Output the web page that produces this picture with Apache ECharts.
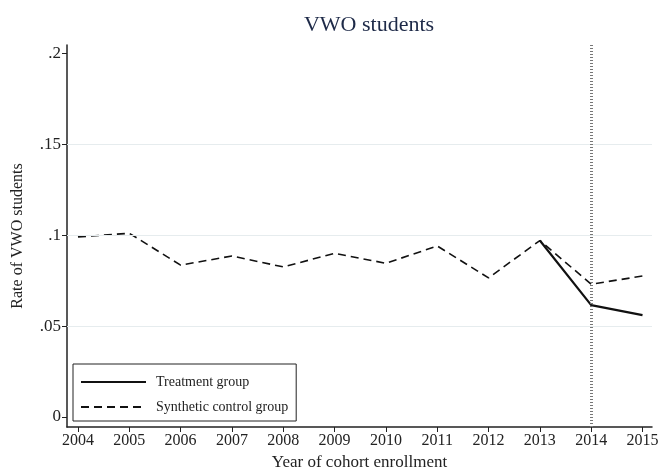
<!DOCTYPE html>
<html>
<head>
<meta charset="utf-8">
<script src="https://cdn.jsdelivr.net/npm/echarts@6/dist/echarts.min.js"></script>
<style>
  html, body { margin: 0; padding: 0; background: #fff; }
  #chart { width: 662px; height: 471px; }
</style>
</head>
<body>
<div id="chart"></div>
<script>
// data
var years = [2004, 2005, 2006, 2007, 2008, 2009, 2010, 2011, 2012, 2013, 2014, 2015];
var syntheticVals = [0.099, 0.101, 0.0835, 0.0885, 0.0825, 0.090, 0.0845, 0.094, 0.0765, 0.097, 0.073, 0.0775];
var treatmentYears = [2013, 2014, 2015];
var treatmentVals = [0.097, 0.0615, 0.056];
var yTicks = [0, 0.05, 0.1, 0.15, 0.2];
var gridVals = [0.05, 0.1, 0.15];
var treatYear = 2014;

var font = '"Liberation Serif", "DejaVu Serif", serif';

function pairs(xs, ys) {
    return xs.map(function (x, i) { return [x, ys[i]]; });
}

function yLabel(v) {
    if (v === 0) return '0';
    return String(Math.round(v * 100) / 100).replace(/^0/, '');
}

var chart = echarts.init(document.getElementById('chart'));
var option = {
    backgroundColor: '#fff',
    animation: false,
    title: {
        text: 'VWO students',
        left: 364,
        textAlign: 'center',
        top: 9,
        textStyle: { fontFamily: font, fontWeight: 'normal', fontSize: 22, color: '#1e2a48' }
    },
    grid: { left: 67, right: 10, top: 45, bottom: 44, containLabel: false, outerBoundsMode: 'none' },
    legend: {
        orient: 'vertical',
        left: 73,
        top: 364,
        padding: [11, 8, 7, 7],
        itemGap: 11,
        itemWidth: 65,
        itemHeight: 10,
        borderColor: '#222',
        borderWidth: 1,
        itemStyle: { opacity: 0 },
        textStyle: { fontFamily: font, fontSize: 14, color: '#222', padding: [0, 0, 0, 5] },
        data: ['Treatment group', 'Synthetic control group']
    },
    xAxis: {
        type: 'value',
        min: 2003.786,
        max: 2015.185,
        name: 'Year of cohort enrollment',
        nameLocation: 'middle',
        nameGap: 26,
        nameTextStyle: { fontFamily: font, fontSize: 17, color: '#222' },
        axisLine: { onZero: false, lineStyle: { color: '#222', width: 1.5 } },
        axisTick: { customValues: years, length: 5, lineStyle: { color: '#222' } },
        axisLabel: {
            customValues: years,
            fontFamily: font, fontSize: 16, color: '#222', margin: 6,
            formatter: function (v) { return String(v); }
        },
        splitLine: { show: false }
    },
    yAxis: {
        type: 'value',
        min: -0.0055,
        max: 0.2045,
        name: 'Rate of VWO students',
        nameLocation: 'middle',
        nameGap: 41,
        nameTextStyle: { fontFamily: font, fontSize: 16, color: '#222' },
        axisLine: { show: true, onZero: false, lineStyle: { color: '#222', width: 1.5 } },
        axisTick: { customValues: yTicks, length: 5, lineStyle: { color: '#222' } },
        axisLabel: {
            customValues: yTicks,
            fontFamily: font, fontSize: 17, color: '#222', margin: 6,
            formatter: yLabel
        },
        splitLine: { show: false }
    },
    series: [
        {
            name: 'Treatment group',
            type: 'line',
            symbol: 'none',
            lineStyle: { color: '#111', width: 2.2, type: 'solid' },
            itemStyle: { color: '#111' },
            data: pairs(treatmentYears, treatmentVals),
            z: 4
        },
        {
            name: 'Synthetic control group',
            type: 'line',
            symbol: 'none',
            lineStyle: { color: '#111', width: 1.6, type: [8, 5] },
            itemStyle: { color: '#111' },
            data: pairs(years, syntheticVals),
            z: 3,
            markLine: {
                silent: true,
                symbol: 'none',
                label: { show: false },
                data: gridVals.map(function (v) {
                    return { yAxis: v, lineStyle: { color: '#e6ecee', width: 1.2, type: 'solid' } };
                }).concat([
                    { xAxis: treatYear, lineStyle: { color: '#777', width: 3, type: [1, 2] } }
                ])
            }
        }
    ]
};
chart.setOption(option);
</script>
</body>
</html>
